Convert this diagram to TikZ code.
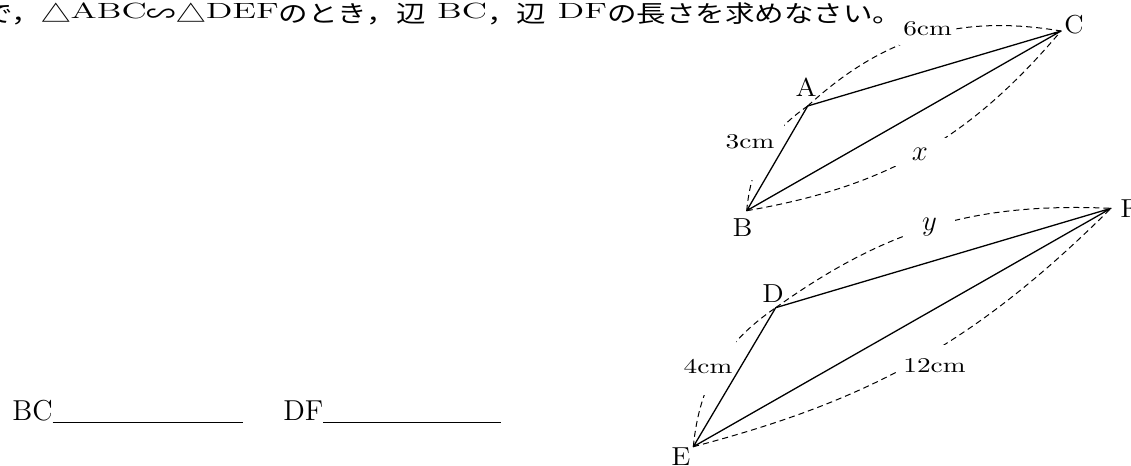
\documentclass[tikz,border=0pt]{standalone}
\usepackage{amsmath,amssymb}
\usepackage{graphicx}
\usepackage{fontspec}
\newfontfamily\jpfont{Noto Sans CJK JP}
\usetikzlibrary{positioning}
\tikzset{
  side/.style={line width=0.65pt,line join=round},
  arcd/.style={dash pattern=on 3pt off 2pt,line width=0.5pt},
  vtx/.style={font=\fontsize{13}{15}\selectfont,inner sep=0pt,anchor=base},
  len/.style={font=\fontsize{10.5}{12}\selectfont,fill=white,inner ysep=0pt,anchor=base},
  var/.style={font=\fontsize{14}{16}\selectfont,fill=white,inner ysep=0pt,anchor=base},
  ans/.style={font=\fontsize{14.4}{16}\selectfont,inner sep=0pt,anchor=base west},
}
\newcommand{\wide}[2][1.3]{\scalebox{#1}[1]{#2}}
\newcommand{\qjp}[1]{{\jpfont\fontsize{11.8}{14}\selectfont\wide[1.25]{#1}}}
\newcommand{\qlat}[1]{\raisebox{2pt}{\wide[1.62]{#1}}}

\begin{document}
\begin{tikzpicture}[x=0.5pt,y=-0.5pt]
  \useasboundingbox (0,0) rectangle (1131,466);
  % question (cut at the left edge)
  \node[anchor=base west,inner sep=0pt,font=\fontsize{11}{13}\selectfont] (q) at (-17,22.5)
    {\qjp{で，△}\qlat{ABC}\qjp{∽△}\qlat{DEF}\qjp{のとき，辺}\qlat{\ BC}\qjp{，辺}\qlat{\ DF}\qjp{の長さを求めなさい。}};

  % triangle ABC
  \coordinate (A) at (807.7,106);
  \coordinate (B) at (746.7,210.7);
  \coordinate (C) at (1061,31);
  % triangle DEF
  \coordinate (D) at (775.7,307.7);
  \coordinate (E) at (693.3,446.7);
  \coordinate (F) at (1111,208.3);

  % dashed arcs
  \draw[arcd] (B) to[bend left=25] (A);
  \draw[arcd] (A) to[bend left=26] (C);
  \draw[arcd] (B) to[bend right=20] (C);
  \draw[arcd] (E) to[bend left=25] (D);
  \draw[arcd] (D) to[bend left=19] (F);
  \draw[arcd] (E) to[bend right=15] (F);

  % lengths
  \node[len,inner xsep=5pt,text height=13pt,text depth=16pt] (lAB) at (750,148) {\wide{3cm}};
  \node[len,inner xsep=2pt,text height=8.5pt,text depth=5pt] (lAC) at (927.5,35) {\wide{6cm}};
  \node[var,inner xsep=9pt,text height=11pt,text depth=3pt] (lBC) at (920,160) {$x$};
  \node[len,inner xsep=2pt,text height=19pt,text depth=11pt] (lDE) at (708,373) {\wide{4cm}};
  \node[var,inner xsep=9pt,text height=7.5pt,text depth=5pt] (lDF) at (929.5,230) {$y$};
  \node[len,inner xsep=2pt,text height=13.5pt,text depth=1.5pt] (lEF) at (934.5,372) {\wide{12cm}};

  % sides
  \draw[side] (A) -- (B) -- (C) -- cycle;
  \draw[side] (D) -- (E) -- (F) -- cycle;

  % vertex names
  \node[vtx] (nA) at (806,97) {\wide[1.1]{A}};
  \node[vtx] (nB) at (742.5,236) {\wide[1.1]{B}};
  \node[vtx] (nC) at (1074,33) {\wide[1.05]{C}};
  \node[vtx] (nD) at (773,302) {\wide[1.1]{D}};
  \node[vtx] (nE) at (681,465) {\wide[1.1]{E}};
  \node[vtx] (nF) at (1129.5,217) {\wide[1.1]{F}};

  % answer blanks
  \node[ans] (bc) at (12,420) {BC\rule[-1.4pt]{95pt}{0.65pt}};
  \node[ans] (df) at (283,420) {DF\rule[-1.4pt]{89pt}{0.65pt}};
\end{tikzpicture}
\end{document}
